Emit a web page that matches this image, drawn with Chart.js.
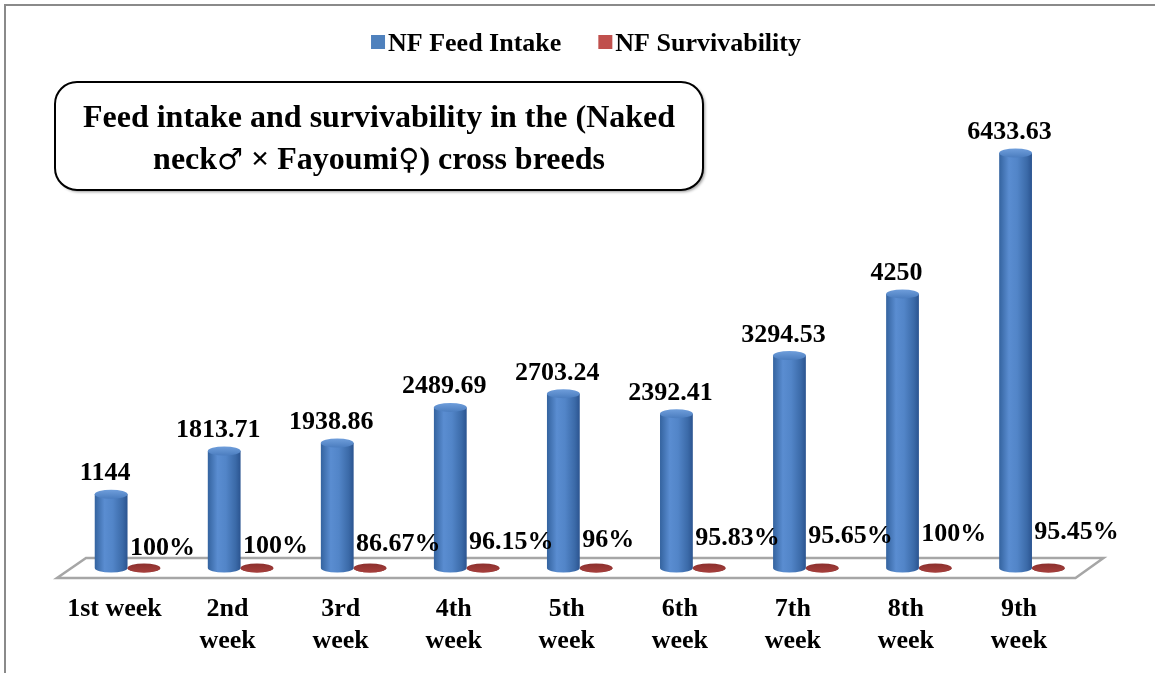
<!DOCTYPE html>
<html>
<head>
<meta charset="utf-8">
<script src="https://cdn.jsdelivr.net/npm/chart.js@4.4.1/dist/chart.umd.min.js"></script>
<style>
  html, body { margin: 0; padding: 0; background: #fff; }
</style>
</head>
<body>
<canvas id="feedChart" width="1155" height="673"></canvas>
<script>
// data
const weeks = ["1st week", ["2nd", "week"], ["3rd", "week"], ["4th", "week"], ["5th", "week"],
  ["6th", "week"], ["7th", "week"], ["8th", "week"], ["9th", "week"]];
const feedIntake = [1144, 1813.71, 1938.86, 2489.69, 2703.24, 2392.41, 3294.53, 4250, 6433.63];
const survivability = [1, 1, 0.8667, 0.9615, 0.96, 0.9583, 0.9565, 1, 0.9545];
const seriesNames = ["NF Feed Intake", "NF Survivability"];
const seriesColors = ["#4f81bd", "#c0504d"];
// title split so the sex symbols can use a thin symbol font
const titleLine1 = "Feed intake and survivability in the (Naked";
const titleLine2 = [["neck", 0], ["\u2642", 1], [" \u00d7 Fayoumi", 0], ["\u2640", 1], [") cross breeds", 0]];

const FONT = '"Liberation Serif", "Times New Roman", serif';
const SYMBOL_FONT = '29px "DejaVu Sans", sans-serif';
const DX = 13, DY = -10;          // bars sit half way back on the floor
const BACK_X = 28, BACK_Y = -20;  // back edge of the floor

const blueSide = [[0, "#34639f"], [0.3, "#5a8dd1"], [0.55, "#5285c8"], [0.85, "#3b6aa8"], [1, "#2b5490"]];
const redSide = [[0, "#7e2d2b"], [0.4, "#a8403d"], [1, "#7a2a28"]];

function cylinder(ctx, x, top, base, w, side, capTop, capBottom) {
  const rx = w / 2, ry = 4.5;
  const g = ctx.createLinearGradient(x - rx, 0, x + rx, 0);
  side.forEach(s => g.addColorStop(s[0], s[1]));
  ctx.fillStyle = g;
  ctx.beginPath();
  ctx.moveTo(x - rx, top);
  ctx.lineTo(x - rx, base);
  ctx.ellipse(x, base, rx, ry, 0, Math.PI, 0, true);
  ctx.lineTo(x + rx, top);
  ctx.closePath();
  ctx.fill();
  const cg = ctx.createLinearGradient(0, top - ry, 0, top + ry);
  cg.addColorStop(0, capTop);
  cg.addColorStop(1, capBottom);
  ctx.fillStyle = cg;
  ctx.beginPath();
  ctx.ellipse(x, top, rx, ry, 0, 0, Math.PI * 2);
  ctx.fill();
}

function pct(v) {
  return Math.round(v * 10000) / 100 + "%";
}

const decor = {
  id: "decor",
  beforeDraw(chart) {
    const ctx = chart.ctx;
    ctx.save();
    ctx.fillStyle = "#fff";
    ctx.fillRect(0, 0, chart.width, chart.height);
    // outer frame (cropped on the right and bottom)
    ctx.strokeStyle = "#8a8a8a";
    ctx.lineWidth = 2;
    ctx.beginPath();
    ctx.moveTo(5, chart.height);
    ctx.lineTo(5, 5);
    ctx.lineTo(chart.width, 5);
    ctx.stroke();

    // legend
    ctx.font = "bold 26px " + FONT;
    ctx.textBaseline = "alphabetic";
    const w0 = ctx.measureText(seriesNames[0]).width;
    const w1 = ctx.measureText(seriesNames[1]).width;
    const total = 14 + 3 + w0 + 37 + 14 + 3 + w1;
    let lx = 586 - total / 2;
    seriesNames.forEach((name, i) => {
      ctx.fillStyle = seriesColors[i];
      ctx.fillRect(lx, 35, 14, 14);
      ctx.fillStyle = "#000";
      ctx.textAlign = "left";
      ctx.fillText(name, lx + 17, 51);
      lx += 17 + (i ? w1 : w0) + 37;
    });

    // title box
    ctx.save();
    ctx.shadowColor = "rgba(0,0,0,0.4)";
    ctx.shadowOffsetX = 2;
    ctx.shadowOffsetY = 2;
    ctx.shadowBlur = 3;
    ctx.fillStyle = "#fff";
    ctx.beginPath();
    ctx.roundRect(55, 82, 648, 108, 22);
    ctx.fill();
    ctx.restore();
    ctx.strokeStyle = "#000";
    ctx.lineWidth = 2;
    ctx.beginPath();
    ctx.roundRect(55, 82, 648, 108, 22);
    ctx.stroke();
    ctx.fillStyle = "#000";
    const titleFont = "bold 32px " + FONT;
    ctx.font = titleFont;
    ctx.textAlign = "center";
    ctx.fillText(titleLine1, 379, 127);
    // second line piece by piece
    ctx.textAlign = "left";
    const widths = titleLine2.map(p => {
      ctx.font = p[1] ? SYMBOL_FONT : titleFont;
      return ctx.measureText(p[0]).width;
    });
    let tx = 379 - widths.reduce((s, w) => s + w, 0) / 2;
    titleLine2.forEach((p, i) => {
      ctx.font = p[1] ? SYMBOL_FONT : titleFont;
      ctx.fillText(p[0], tx, 169);
      tx += widths[i];
    });
    ctx.restore();
  },
  beforeDatasetsDraw(chart) {
    const ctx = chart.ctx, a = chart.chartArea;
    ctx.save();
    ctx.fillStyle = "#fff";
    ctx.strokeStyle = "#a6a6a6";
    ctx.lineWidth = 2.5;
    ctx.beginPath();
    ctx.moveTo(a.left - 1, a.bottom);
    ctx.lineTo(a.right, a.bottom);
    ctx.lineTo(a.right + BACK_X, a.bottom + BACK_Y);
    ctx.lineTo(a.left + BACK_X, a.bottom + BACK_Y);
    ctx.closePath();
    ctx.fill();
    ctx.stroke();
    ctx.restore();
  },
  beforeDatasetDraw() {
    return false;
  },
  afterDatasetsDraw(chart) {
    const ctx = chart.ctx;
    const blue = chart.getDatasetMeta(0).data;
    const red = chart.getDatasetMeta(1).data;
    ctx.save();
    blue.forEach((b, i) => {
      cylinder(ctx, b.x + DX, b.y + DY, b.base + DY, b.width, blueSide, "#6f9edb", "#4b7dbf");
      const r = red[i];
      cylinder(ctx, r.x + DX, r.y + DY, r.base + DY, r.width, redSide, "#8c302e", "#a63f3c");
    });
    ctx.fillStyle = "#000";
    ctx.font = "bold 26px " + FONT;
    ctx.textBaseline = "alphabetic";
    blue.forEach((b, i) => {
      ctx.textAlign = "center";
      ctx.fillText(String(feedIntake[i]), b.x + DX - 6, b.y + DY - 14);
      const r = red[i];
      ctx.textAlign = "left";
      ctx.fillText(pct(survivability[i]), r.x + DX - 14, r.y + DY - 13 - 2 * i);
    });
    ctx.restore();
  }
};

new Chart(document.getElementById("feedChart").getContext("2d"), {
  type: "bar",
  data: {
    labels: weeks,
    datasets: [
      {
        label: seriesNames[0],
        data: feedIntake,
        backgroundColor: seriesColors[0],
        barPercentage: 1,
        categoryPercentage: 0.58,
      },
      {
        label: seriesNames[1],
        data: survivability,
        backgroundColor: seriesColors[1],
        barPercentage: 1,
        categoryPercentage: 0.58,
      },
    ],
  },
  options: {
    responsive: false,
    animation: false,
    devicePixelRatio: 1,
    layout: { padding: { top: 126.5, left: 58, right: 79.5, bottom: 0 } },
    plugins: {
      legend: { display: false },
      tooltip: { enabled: false },
    },
    scales: {
      x: {
        grid: { display: false, drawTicks: false },
        border: { display: false },
        ticks: {
          color: "#000",
          font: { family: FONT, size: 26, weight: "bold" },
          padding: 16,
          maxRotation: 0,
          autoSkip: false,
        },
        afterFit(scale) {
          scale.height = 95;
        },
      },
      y: { display: false, min: 0, max: 7000 },
    },
  },
  plugins: [decor],
});
</script>
</body>
</html>
